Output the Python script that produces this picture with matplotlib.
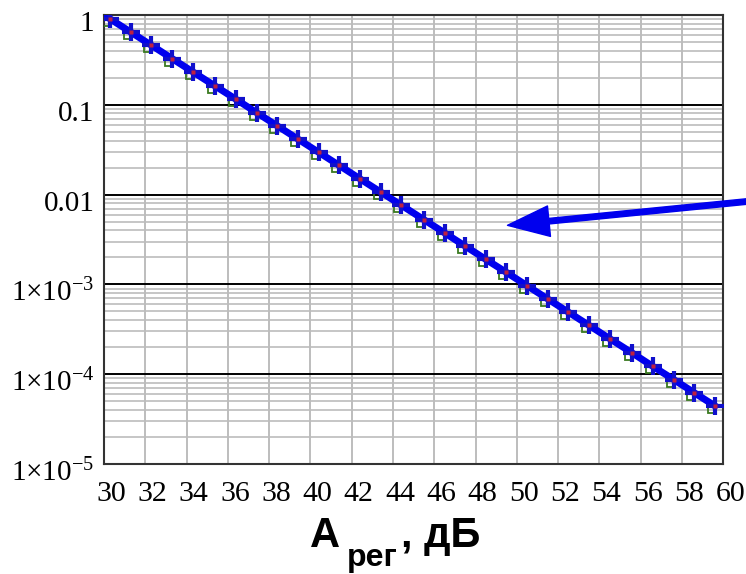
import numpy as np
import matplotlib
matplotlib.use("Agg")
import matplotlib.pyplot as plt
import matplotlib.transforms as mtransforms
from matplotlib.ticker import FixedLocator, NullFormatter

plt.rcParams["mathtext.fontset"] = "custom"
plt.rcParams["mathtext.rm"] = "Liberation Serif"
plt.rcParams["mathtext.it"] = "Liberation Serif:italic"
plt.rcParams["mathtext.bf"] = "Liberation Sans:bold"

# values
a_reg = [30.3, 31.3, 32.3, 33.3, 34.3, 35.4, 36.4, 37.4, 38.4, 39.4,
         40.4, 41.4, 42.4, 43.4, 44.4, 45.5, 46.5, 47.5, 48.5, 49.5,
         50.5, 51.5, 52.5, 53.5, 54.5, 55.6, 56.6, 57.6, 58.6, 59.6]
p_err = [0.903, 0.644, 0.459, 0.327, 0.233, 0.161, 0.115, 0.0816, 0.0582, 0.0415,
         0.0296, 0.0211, 0.0150, 0.0107, 0.00763, 0.00526, 0.00375, 0.00267, 0.00190, 0.00136,
         9.67e-4, 6.89e-4, 4.91e-4, 3.50e-4, 2.49e-4, 1.72e-4, 1.22e-4, 8.73e-5, 6.22e-5, 4.44e-5]
line_x = [30.0] + a_reg
line_y = [1.0] + p_err

x_ticks = list(range(30, 61, 2))
y_ticks = [1e-5, 1e-4, 1e-3, 1e-2, 0.1, 1]
y_labels = [r"$1{\times}10^{-5}$", r"$1{\times}10^{-4}$", r"$1{\times}10^{-3}$",
            "0.01", "0.1", "1"]

fig = plt.figure(figsize=(7.46, 5.74), dpi=100)
ax = fig.add_axes([0.1394, 0.1916, 0.830, 0.7823])

ax.set_yscale("log")
ax.set_xlim(30, 60)
ax.set_ylim(1e-5, 1)

ax.xaxis.set_major_locator(FixedLocator(x_ticks))
ax.yaxis.set_major_locator(FixedLocator(y_ticks))
minors = [m * 10.0 ** e for e in range(-5, 0) for m in range(2, 10)]
ax.yaxis.set_minor_locator(FixedLocator(minors))
ax.yaxis.set_minor_formatter(NullFormatter())
ax.set_xticklabels([str(t) for t in x_ticks], family="Liberation Serif", fontsize=21.5)
ax.set_yticklabels(y_labels, family="Liberation Serif", fontsize=21)
ax.tick_params(which="both", length=0)
ax.tick_params(axis="x", pad=12)
ax.tick_params(axis="y", pad=7)

# shift tick labels like the original (Mathcad style)
xshift = mtransforms.ScaledTranslation(7 / 100, 0, fig.dpi_scale_trans)
for lab in ax.get_xticklabels():
    lab.set_transform(lab.get_transform() + xshift)
yshift = mtransforms.ScaledTranslation(0, -6 / 100, fig.dpi_scale_trans)
for lab in ax.get_yticklabels():
    lab.set_transform(lab.get_transform() + yshift)

ax.grid(True, axis="x", which="major", color="#b8b8b8", lw=1.3)
ax.grid(True, axis="y", which="minor", color="#bcbcbc", lw=1.2)
ax.grid(True, axis="y", which="major", color="black", lw=1.4)
ax.set_axisbelow(True)
for s in ax.spines.values():
    s.set_color("#333333")
    s.set_linewidth(1.5)

ax.plot(line_x, line_y, color="#0000ee", lw=5, zorder=3)
off = mtransforms.ScaledTranslation(-3 / 100, -3 / 100, fig.dpi_scale_trans)
ax.plot(a_reg, p_err, ls="none", marker="s", ms=6, mfc="none", mec="#3a7a20",
        mew=1.3, transform=ax.transData + off, zorder=4)
ax.plot(a_reg, p_err, ls="none", marker="+", ms=13, mec="#1010cc", mew=3, zorder=5)
ax.plot(a_reg, p_err, ls="none", marker="s", ms=3, mfc="#c02040", mec="none", zorder=6)

ax.annotate("", xy=(49.55, 0.00455), xytext=(61.2, 0.0084), annotation_clip=False,
            arrowprops=dict(width=4, headwidth=22, headlength=30, color="#0000ee"))

# axis caption: A with a lowered subscript, then ", дБ"
lab_kw = dict(family="Liberation Sans", fontweight="bold", va="baseline", ha="left")
fig.text(310 / 746, 1 - 547 / 574, "A", fontsize=30, **lab_kw)
fig.text(347 / 746, 1 - 566 / 574, "рег", fontsize=23, **lab_kw)
fig.text(401 / 746, 1 - 547 / 574, ", дБ", fontsize=30, **lab_kw)

fig.savefig("out.png", dpi=100)
